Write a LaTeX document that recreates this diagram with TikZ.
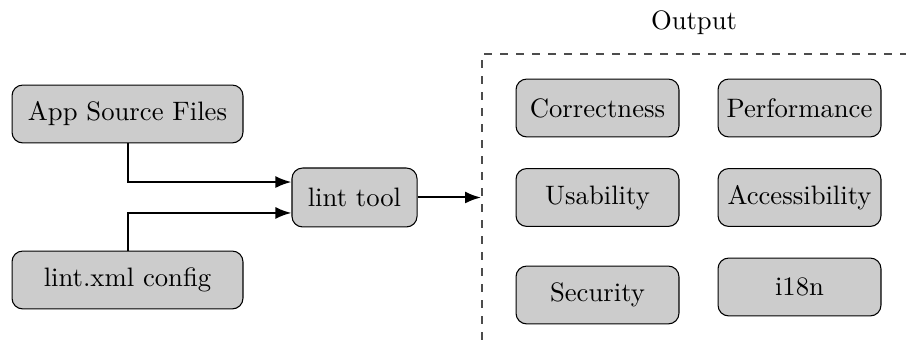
\documentclass[tikz,border=0pt]{standalone}
\usetikzlibrary{arrows.meta}
\definecolor{boxgray}{HTML}{CCCCCC}
\tikzset{
  block/.style={draw=black, fill=boxgray, rounded corners=4pt, align=center,
    inner sep=2pt, line width=0.4pt},
  srcbox/.style={block, minimum width=86.6pt, minimum height=21.7pt},
  toolbox/.style={block, minimum width=46.9pt, minimum height=22.1pt},
  catbox/.style={block, minimum width=61.1pt, minimum height=21.7pt},
  flow/.style={draw=black, line width=0.75pt, -{Latex[length=6pt,width=4.5pt]}},
  group/.style={draw=black!70, dashed, line width=0.5pt}
}
\begin{document}
\begin{tikzpicture}[x=0.375pt, y=-0.375pt]
  \useasboundingbox (0,0) rectangle (906,340);

  % inputs and the tool
  \node[srcbox] (app) at (127.5,114) {App Source Files};
  \node[srcbox] (cfg) at (127.5,280) {lint.xml config};
  \node[toolbox] (lint) at (354.5,197.5) {lint tool};

  % output group frame (open to the right and below)
  \coordinate (gbl) at (482,340);
  \coordinate (gtl) at (482,54);
  \coordinate (gtr) at (906,54);
  \draw[group] (gbl) -- (gtl) -- (gtr);
  \node (outlabel) at (694,23) {Output};
  \coordinate (gin) at (481,197.5);

  % issue categories
  \node[catbox] (corr) at (597.5,108) {Correctness};
  \node[catbox] (perf) at (799.5,108) {Performance};
  \node[catbox] (usab) at (597.5,197.5) {Usability};
  \node[catbox] (acc)  at (799.5,197.5) {Accessibility};
  \node[catbox] (sec)  at (597.5,295) {Security};
  \node[catbox] (intl) at (799.5,287) {i18n};

  % connectors
  \draw[flow] (app.south) |- ([yshift=5.8pt]lint.west);
  \draw[flow] (cfg.north) |- ([yshift=-5.8pt]lint.west);
  \draw[flow] (lint.east) -- (gin);
\end{tikzpicture}
\end{document}
